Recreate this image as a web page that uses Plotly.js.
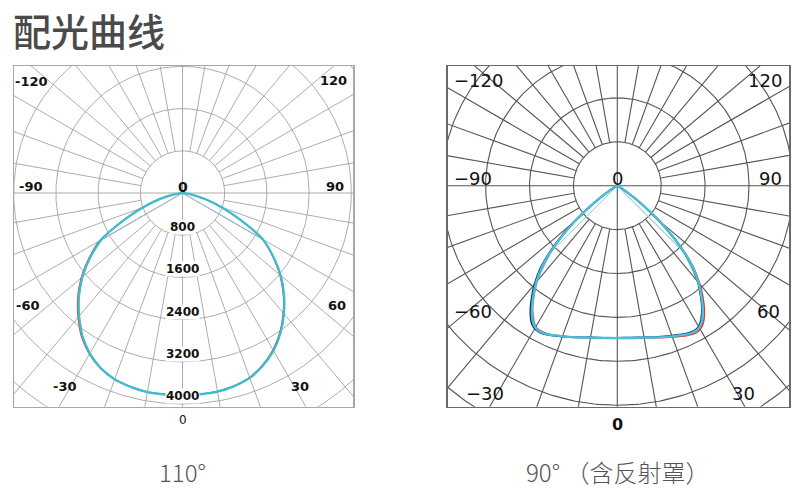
<!DOCTYPE html>
<html><head><meta charset="utf-8">
<script src="https://cdn.plot.ly/plotly-3.0.1.min.js"></script>
<style>html,body{margin:0;padding:0;background:#fff}#chart{width:800px;height:492px}</style>
</head><body><div id="chart"></div>
<script>
// ================= DATA =================
const chartTitle = '配光曲线';
const captionLeft = '110°';
const captionRight = '90° （含反射罩）';

// ---- Left chart (110°), intensity in cd, angle in degrees (0 = straight down)
const angL = [-90,-85,-80,-75,-70,-65,-60,-55,-50,-45,-40,-35,-30,-25,-20,-15,-10,-5,0,5,10,15,20,25,30,35,40,45,50,55,60,65,70,75,80,85,90];
const cyanL = [0,60,200,450,800,1240,1790,2140,2480,2780,3050,3310,3515,3665,3760,3805,3835,3835,3830,3830,3825,3790,3730,3610,3450,3240,2990,2720,2430,2100,1760,1220,790,440,195,60,0];
const redL  = [0,60,200,455,815,1260,1815,2170,2510,2810,3080,3335,3530,3672,3762,3805,3832,3832,3828,3828,3820,3783,3720,3595,3430,3220,2970,2700,2410,2085,1750,1212,785,436,193,58,0];
const thinAngL = [-90,-60,-55,-50,-45,-40,-35,-30,-25,-20,-15,-10,-5,0,5,10,15,20,25,30,35,40,45,50,55,60,90];
const greyL = [0,1860,2150,2480,2775,3045,3305,3510,3660,3755,3800,3830,3830,3825,3825,3820,3785,3725,3605,3445,3235,2985,2715,2425,2095,1790,0];
const blueL = [0,1750,2130,2470,2770,3040,3300,3505,3655,3750,3795,3825,3828,3826,3826,3822,3788,3728,3612,3452,3245,2995,2725,2435,2105,1770,0];
const radialTicksL = [800,1600,2400,3200,4000];

// ---- Right chart (90° with reflector)
const angR = [-90,-75,-70,-65,-60,-58,-55,-53,-50,-47,-45,-43,-40,-38,-35,-32,-30,-28,-25,-20,-15,-10,-5,0,5,10,15,20,25,28,30,32,35,38,40,43,45,47,50,53,55,58,60,65,70,75,90];
const cyanR = [0,0,8,25,80,150,340,560,1010,1460,1745,2000,2300,2470,2710,2910,2985,3010,2990,2920,2860,2810,2785,2776,2785,2810,2860,2920,2990,3010,2985,2910,2710,2470,2300,2000,1745,1460,1010,560,340,150,80,25,8,0,0];
const navyR = [0,0,10,30,90,165,360,590,1050,1500,1790,2050,2350,2520,2760,2950,3010,3025,3000,2925,2860,2808,2782,2772,2780,2805,2852,2908,2975,2995,2965,2885,2685,2450,2280,1980,1725,1440,995,550,330,145,75,22,6,0,0];
const redR  = [0,0,6,22,75,145,330,550,995,1440,1725,1980,2280,2450,2690,2890,2970,2995,2980,2915,2858,2812,2790,2780,2792,2818,2870,2935,3010,3040,3020,2955,2765,2520,2340,2030,1765,1475,1020,570,345,155,82,26,8,0,0];
const thinAngR = [-90,-45,-40,-35,-30,-25,-20,-15,-10,-5,0,5,10,15,20,25,30,35,40,45,90];
const greyR = [0,1745,2300,2710,2985,2990,2920,2860,2810,2785,2776,2785,2810,2860,2920,2990,2985,2710,2300,1745,0];
const lblueR = [0,1700,2280,2700,2980,2985,2915,2858,2808,2783,2774,2783,2808,2858,2915,2985,2980,2700,2280,1700,0];

// angle labels (text shown at the frame)
const angleLabels = ['-120','120','-90','90','-60','60','-30','30'];

// ================= HELPERS =================
const D2R = Math.PI / 180;
function polarXY(angles, vals) {
  return {
    x: vals.map((v, i) => v * Math.sin(angles[i] * D2R)),
    y: vals.map((v, i) => -v * Math.cos(angles[i] * D2R))
  };
}
function gridTraces(xa, ya, step, nRings, color, width) {
  const rx = [], ry = [];
  for (let k = 1; k <= nRings; k++) {
    for (let a = 0; a <= 360; a += 1) { rx.push(k * step * Math.sin(a * D2R)); ry.push(-k * step * Math.cos(a * D2R)); }
    rx.push(null); ry.push(null);
  }
  const sx = [], sy = [];
  const rMax = step * nRings;
  for (let a = 10; a < 360; a += 10) {
    if (a % 90 === 0) continue;
    sx.push(step * Math.sin(a * D2R), rMax * Math.sin(a * D2R), null);
    sy.push(-step * Math.cos(a * D2R), -rMax * Math.cos(a * D2R), null);
  }
  const cx = [-rMax, rMax, null, 0, 0], cy = [0, 0, null, -rMax, rMax];
  const base = { type: 'scatter', mode: 'lines', xaxis: xa, yaxis: ya, hoverinfo: 'skip', showlegend: false,
                 line: { color: color, width: width } };
  return [Object.assign({}, base, { x: rx, y: ry }),
          Object.assign({}, base, { x: sx, y: sy }),
          Object.assign({}, base, { x: cx, y: cy })];
}
function curve(xa, ya, angles, vals, color, width, shape) {
  const p = polarXY(angles, vals);
  return { type: 'scatter', mode: 'lines', x: p.x, y: p.y, xaxis: xa, yaxis: ya, hoverinfo: 'skip', showlegend: false,
           line: { color: color, width: width, shape: shape || 'linear', smoothing: 0.6 } };
}

// ================= LAYOUT GEOMETRY (pixels) =================
const W = 800, H = 492;
const px = v => v / W, py = v => 1 - v / H;
const frameL = { x0: 14, x1: 353.3, y0: 66, y1: 406.7, cx: 182.5, cy: 193, unit: 42.2 / 800 };
const frameR = { x0: 447.7, x1: 789, y0: 66, y1: 406.7, cx: 617.3, cy: 185.7, unit: 43.9 / 800 };
function axisSetup(f) {
  const u = f.unit;
  return {
    x: { domain: [px(f.x0), px(f.x1)], range: [-(f.cx - f.x0) / u, (f.x1 - f.cx) / u] },
    y: { domain: [py(f.y1), py(f.y0)], range: [-(f.y1 - f.cy) / u, (f.cy - f.y0) / u] }
  };
}
const aL = axisSetup(frameL), aR = axisSetup(frameR);
function axisStyle(a, color, lw, anchor) {
  return Object.assign({ showgrid: false, zeroline: false, showticklabels: false, ticks: '', fixedrange: true,
    showline: true, mirror: true, linecolor: color, linewidth: lw, anchor: anchor }, a);
}

// ================= TRACES =================
const traces = [].concat(
  gridTraces('x', 'y', 800, 8, '#a3a3a3', 0.9),
  [
    curve('x', 'y', thinAngL, greyL, '#7d8994', 1),
    curve('x', 'y', thinAngL, blueL, '#a9c3dc', 1),
    curve('x', 'y', angL, redL, '#e2382c', 1.3, 'spline'),
    curve('x', 'y', angL, cyanL, '#3dbccf', 2.3, 'spline')
  ],
  gridTraces('x2', 'y2', 800, 8, '#555555', 1.1),
  [
    curve('x2', 'y2', thinAngR, greyR, '#b4c2cf', 1),
    curve('x2', 'y2', thinAngR, lblueR, '#8fd3e2', 1),
    curve('x2', 'y2', angR, redR, '#e2382c', 1.6, 'spline'),
    curve('x2', 'y2', angR, navyR, '#142c86', 1.8, 'spline'),
    curve('x2', 'y2', angR, cyanR, '#45c2d8', 2.3, 'spline')
  ]
);

// ================= ANNOTATIONS =================
const ann = [];
function txt(text, x, y, size, color, family, weight, extra) {
  ann.push(Object.assign({ text: text, xref: 'paper', yref: 'paper', x: px(x), y: py(y), xanchor: 'center', yanchor: 'middle',
    showarrow: false, font: { size: size, color: color, family: family, weight: weight } }, extra || {}));
}
// title
txt(chartTitle, 11, 29, 38, '#4a4a4a', 'Noto Sans CJK SC', 500, { xanchor: 'left' });
// left angle labels
const posL = [[31.7, 81.7], [333, 80], [31, 186], [335, 186], [28.5, 305], [336.5, 305], [65, 386.7], [300, 386.7]];
angleLabels.forEach((t, i) => txt(t, posL[i][0], posL[i][1], 13, '#111', 'DejaVu Sans', 'bold'));
txt('0', frameL.cx, 186.5, 14, '#111', 'DejaVu Sans', 'bold');
txt('0', frameL.cx, 420, 12, '#111', 'DejaVu Sans', 'normal');
// left radial labels
radialTicksL.forEach(v => ann.push({ text: String(v), xref: 'x', yref: 'y', x: 0, y: -v, xanchor: 'center', yanchor: 'bottom',
  showarrow: false, bgcolor: '#ffffff', borderpad: 0, font: { size: 12, color: '#111', family: 'DejaVu Sans', weight: 'bold' } }));
// right angle labels
const posR = [[478.3, 80], [765, 80], [473.3, 178.3], [770, 178.3], [473.3, 311.7], [768.3, 311.7], [485, 393.3], [743.3, 393.3]];
angleLabels.forEach((t, i) => txt(t.replace('-', '\u2212'), posR[i][0], posR[i][1], 18, '#111', 'DejaVu Sans', 'normal'));
txt('0', frameR.cx, 178.3, 18, '#111', 'DejaVu Sans', 'normal');
txt('0', frameR.cx, 424, 16, '#111', 'DejaVu Sans', 'bold');
// captions
txt(captionLeft, frameL.cx, 471, 24, '#555', 'Noto Sans CJK SC', 300);
txt(captionRight, frameR.cx, 471, 24, '#555', 'Noto Sans CJK SC', 300);

const layout = {
  width: W, height: H, margin: { l: 0, r: 0, t: 0, b: 0 },
  paper_bgcolor: '#fff', plot_bgcolor: '#fff', showlegend: false,
  font: { family: 'DejaVu Sans', color: '#111' },
  xaxis: axisStyle(aL.x, '#a8a8a8', 1.5, 'y'),
  yaxis: axisStyle(aL.y, '#a8a8a8', 1.5, 'x'),
  xaxis2: axisStyle(aR.x, '#6a6a6a', 1.5, 'y2'),
  yaxis2: axisStyle(aR.y, '#6a6a6a', 1.5, 'x2'),
  annotations: ann
};
Plotly.newPlot('chart', traces, layout, { displayModeBar: false, staticPlot: true });
</script></body></html>
